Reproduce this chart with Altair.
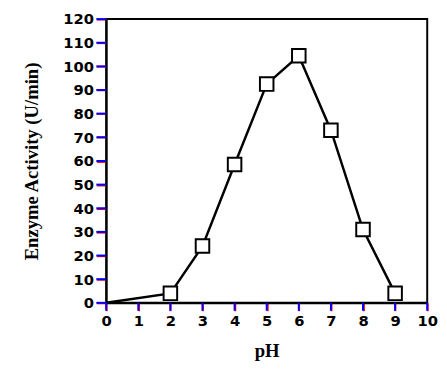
import altair as alt
import pandas as pd

ph = [0, 2, 3, 4, 5, 6, 7, 8, 9]
activity = [0, 4, 24, 58.5, 92.5, 104.5, 73, 31, 4]
marker = [False, True, True, True, True, True, True, True, True]
x_ticks = list(range(0, 11))
y_ticks = list(range(0, 121, 10))

df = pd.DataFrame({"pH": ph, "activity": activity, "marker": marker})
xt = pd.DataFrame({"pH": x_ticks})
yt = pd.DataFrame({"activity": y_ticks})

common = dict(grid=False, ticks=True, tickWidth=2, domainColor="black",
              domainWidth=2, labelFont="DejaVu Sans", labelFontWeight="bold",
              labelFontSize=15, labelColor="black",
              titleFont="Liberation Serif", titleFontWeight="bold",
              titleFontSize=19, titleColor="black", labelFlush=False)

xscale = alt.Scale(domain=[0, 10], nice=False)
yscale = alt.Scale(domain=[0, 120], nice=False)
x = alt.X("pH:Q", scale=xscale,
          axis=alt.Axis(values=x_ticks, title="pH", tickSize=8, tickColor="red",
                        labelPadding=3, titlePadding=14, **common))
y = alt.Y("activity:Q", scale=yscale,
          axis=alt.Axis(values=y_ticks, title="Enzyme Activity (U/min)", tickColor="red",
                        tickSize=10, labelPadding=3, titlePadding=22, **common))

line = alt.Chart(df).mark_line(color="black", strokeWidth=2.5).encode(x=x, y=y)
points = alt.Chart(df).transform_filter("datum.marker").mark_point(
    shape="square", size=190, filled=True, fill="white", stroke="black",
    strokeWidth=2, opacity=1).encode(x=x, y=y)

yticks = alt.Chart(yt).mark_tick(orient="horizontal", size=10, thickness=2,
                                 color="blue", opacity=1).encode(
    y=y, x=alt.value(-5))
xticks = alt.Chart(xt).mark_tick(orient="vertical", size=8, thickness=2,
                                 color="blue", opacity=1).encode(
    x=x, y=alt.value(293))

chart = (line + points + yticks + xticks).properties(
    width=327, height=289,
    autosize=alt.AutoSizeParams(type="none"),
    padding={"left": 100, "top": 8, "right": 12, "bottom": 58},
).configure_view(stroke="black", strokeWidth=2)

chart.save("out.html", embed_options={"renderer": "svg", "actions": False})
